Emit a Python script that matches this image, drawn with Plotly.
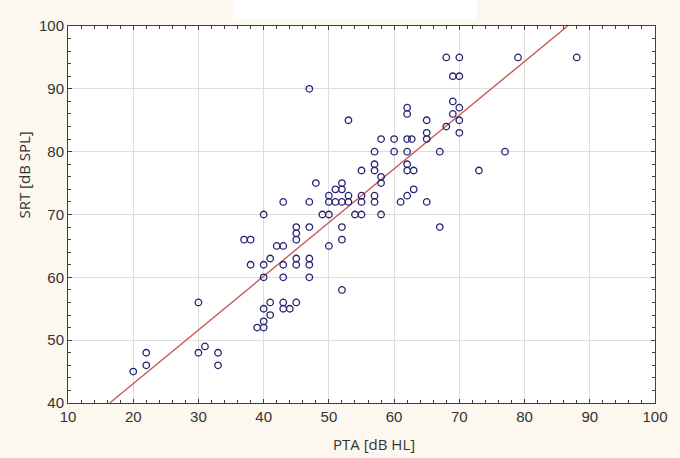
import plotly.graph_objects as go

# Data
pta = [20, 22, 22, 30, 30, 31, 33, 33,
       37, 38, 38, 39,
       40, 40, 40, 40, 40, 40,
       41, 41, 41,
       42, 43, 43, 43, 43, 43, 43, 44, 45,
       45, 45, 45, 45, 45,
       47, 47, 47, 47, 47, 47,
       48, 49, 50, 50, 50, 50,
       51, 51, 52, 52, 52, 52, 52, 52,
       53, 53, 53,
       54, 55, 55, 55, 55,
       57, 57, 57, 57, 57,
       58, 58, 58, 58,
       60, 60, 61,
       62, 62, 62, 62.7, 62, 62, 62, 63, 63, 62,
       65, 65, 65, 65,
       67, 67,
       68, 68, 69, 69, 69, 70, 70, 70, 70, 70,
       73, 77, 79, 88]
srt = [45, 48, 46, 56, 48, 49, 48, 46,
       66, 66, 62, 52,
       70, 62, 60, 55, 53, 52,
       63, 56, 54,
       65, 65, 72, 62, 60, 56, 55, 55, 56,
       68, 67, 66, 63, 62,
       90, 72, 68, 63, 62, 60,
       75, 70, 73, 72, 70, 65,
       74, 72, 75, 74, 72, 68, 66, 58,
       85, 73, 72,
       70, 77, 73, 72, 70,
       80, 78, 77, 73, 72,
       82, 76, 75, 70,
       82, 80, 72,
       87, 86, 82, 82, 80, 78, 77, 77, 74, 73,
       85, 83, 82, 72,
       80, 68,
       95, 84, 92, 88, 86, 95, 92, 87, 85, 83,
       77, 80, 95, 95]

# Regression line end points
fit_x = [16.4, 86.6]
fit_y = [40, 100]

x_ticks = [10, 20, 30, 40, 50, 60, 70, 80, 90, 100]
y_ticks = [40, 50, 60, 70, 80, 90, 100]

fig = go.Figure()
fig.add_trace(go.Scatter(
    x=fit_x, y=fit_y, mode="lines",
    line=dict(color="#c9544f", width=1.3),
    hoverinfo="skip", showlegend=False))
fig.add_trace(go.Scatter(
    x=pta, y=srt, mode="markers",
    marker=dict(symbol="circle-open", size=6.5, color="#23236e",
                line=dict(width=1.3, color="#23236e")),
    showlegend=False))

axis_common = dict(
    showline=True, linecolor="#404040", linewidth=1, mirror="allticks",
    ticks="inside", ticklen=4, tickcolor="#404040", tickwidth=1,
    showgrid=True, gridcolor="#dddddd", gridwidth=1, zeroline=False,
    tickfont=dict(family="Liberation Sans, Arial", size=15, color="#333333"),
)

fig.update_xaxes(range=[10, 100], tickvals=x_ticks,
                 minor=dict(dtick=2, ticks="inside", ticklen=3,
                            tickcolor="#404040", showgrid=False),
                 **axis_common)
fig.update_yaxes(range=[40, 100], tickvals=y_ticks,
                 minor=dict(dtick=2, ticks="inside", ticklen=3,
                            tickcolor="#404040", showgrid=False),
                 **axis_common)

fig.update_layout(
    width=680, height=458,
    margin=dict(l=68, r=18, t=26, b=55),
    paper_bgcolor="#fcf8ef", plot_bgcolor="#ffffff",
    shapes=[dict(type="rect", xref="paper", yref="paper",
                 x0=(235 - 68) / 594, x1=(482 - 68) / 594,
                 y0=(403 - 19) / 377, y1=(403 + 10) / 377,
                 fillcolor="#ffffff", line=dict(width=0), layer="below")],
    annotations=[
        dict(text="PTA [dB HL]", xref="paper", yref="paper",
             x=(378 - 68) / 594, y=(403 - 444) / 377, showarrow=False,
             xanchor="center", yanchor="middle",
             font=dict(family="Open Sans", size=15, color="#333333")),
        dict(text="SRT [dB SPL]", xref="paper", yref="paper",
             x=(23 - 68) / 594, y=(403 - 175) / 377, showarrow=False,
             xanchor="center", yanchor="middle", textangle=-90,
             font=dict(family="Open Sans", size=15, color="#333333")),
    ],
)

fig.write_html("out.html")
